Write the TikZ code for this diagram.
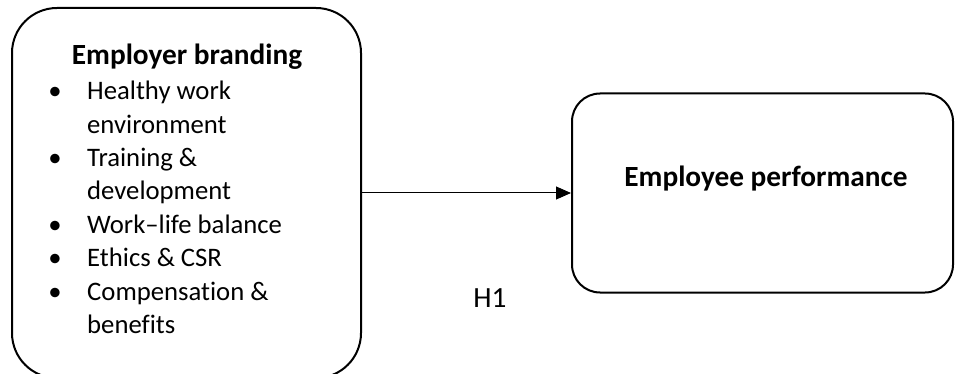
\documentclass[tikz,border=0pt]{standalone}
\usepackage{fontspec}
\setmainfont[Ligatures={NoCommon}]{Carlito}
\usetikzlibrary{arrows.meta}
\begin{document}
\begin{tikzpicture}[x=1pt,y=-1pt,
  box/.style={draw=black,line width=2pt,rounded corners=#1,inner sep=0pt},
  txt/.style={anchor=base west,inner sep=0pt,font=\fontsize{26.7}{33}\selectfont},
  bul/.style={anchor=base,inner sep=0pt,font=\fontsize{26.7}{33}\selectfont},
  lbl/.style={anchor=base,inner sep=0pt,font=\fontsize{29.3}{33}\selectfont},
  ttl/.style={anchor=base,inner sep=0pt,font=\fontsize{29.3}{33}\selectfont\bfseries},
  conn/.style={line width=1pt,-{Triangle[length=15pt,width=13pt]}}]
\useasboundingbox (0,0) rectangle (955,374);
\clip (0,0) rectangle (955,374);
\node[box=45pt,minimum width=349pt,minimum height=370pt] (lb) at (186.5,193) {};
\node[box=28pt,minimum width=381pt,minimum height=199pt] (rb) at (762.5,193) {};
\draw[conn] (lb.east) -- (rb.west);
\node[ttl] (t1) at (187,65) {Employer branding};
\node[bul] (b1) at (55,100) {\textbullet};
\node[txt] (i1) at (87,100) {Healthy work};
\node[txt] (i1b) at (87,133.3) {environment};
\node[bul] (b2) at (55,166.7) {\textbullet};
\node[txt] (i2) at (87,166.7) {Training \&};
\node[txt] (i2b) at (87,200) {development};
\node[bul] (b3) at (55,233.3) {\textbullet};
\node[txt] (i3) at (87,233.3) {Work–life balance};
\node[bul] (b4) at (55,266.7) {\textbullet};
\node[txt] (i4) at (87,266.7) {Ethics \& CSR};
\node[bul] (b5) at (55,300) {\textbullet};
\node[txt] (i5) at (87,300) {Compensation \&};
\node[txt] (i5b) at (87,333.3) {benefits};
\node[ttl] (t2) at (766,186) {Employee performance};
\node[lbl] (h1) at (490,307) {H1};
\end{tikzpicture}
\end{document}
